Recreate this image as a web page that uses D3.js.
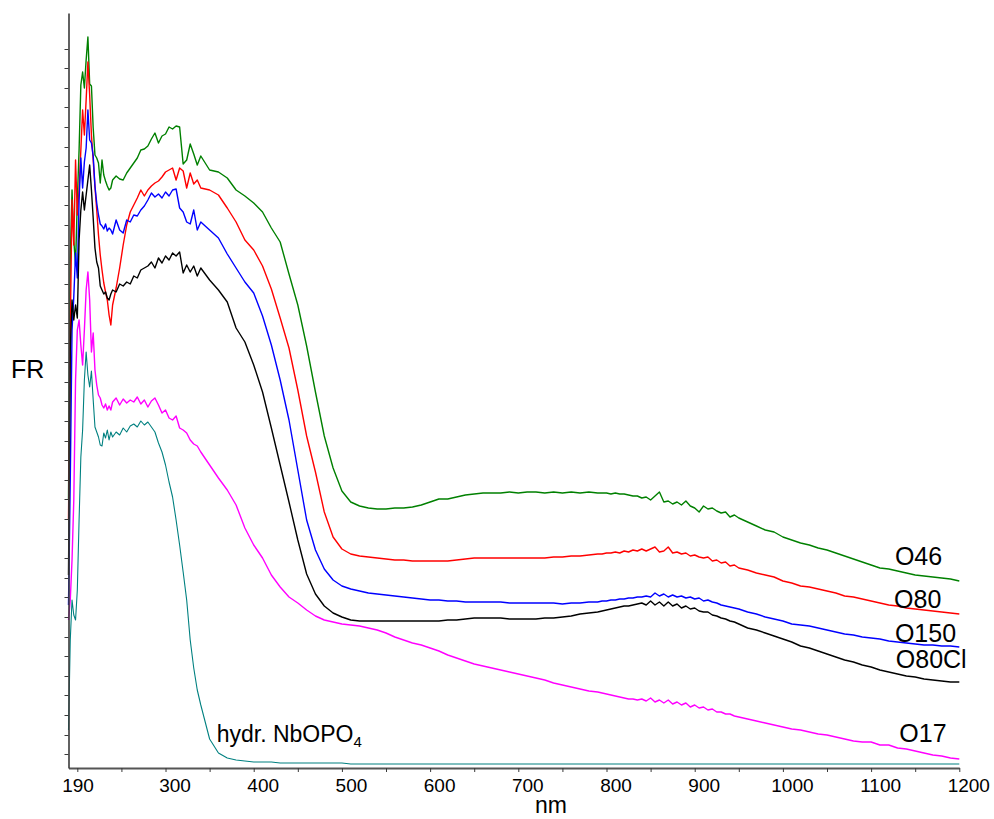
<!DOCTYPE html>
<html><head><meta charset="utf-8">
<script src="https://cdn.jsdelivr.net/npm/d3@7"></script>
<style>
body{margin:0;background:#fff}
svg{display:block}
text{font-family:"Liberation Sans",Arial,sans-serif;fill:#000}
</style>
</head><body>
<svg id="chart" width="994" height="819"></svg>
<script>
// wavelength grid (nm)
const wavelengths = [
190,192,194,196,198,200,202,204,206,208,210,212,214,216,218,220,222,224,226,228,230,232,234,236,238,240,
244,248,252,256,260,264,268,272,276,280,284,288,292,296,300,304,308,312,316,320,324,328,332,336,340,
350,360,370,380,390,400,410,420,430,440,450,460,470,480,490,500,510,520,530,540,550,560,570,580,590,600,
610,620,630,640,650,660,670,680,690,700,710,720,730,740,750,760,770,780,790,
795,800,805,810,815,820,825,830,835,840,845,850,855,860,865,870,875,880,885,890,895,900,905,910,915,920,925,930,935,940,945,950,
960,970,980,990,1000,1010,1020,1030,1040,1050,1060,1070,1080,1090,1100,1110,1120,1130,1140,1150,1160,1170,1180,1190,1200
];

// FR values (arbitrary units)
const O46 = [
268,508,578,528,503,568,618,683,696,680,708,731,684,682,640,613,610,605,585,608,593,587,582,578,580,588,
592,589,588,595,600,605,610,618,619,622,629,635,625,632,634,641,639,642,641,604,608,624,614,603,612,
598,596,590,578,572,565,556,540,526,494,463,422,376,332,300,277,266,262,260,259,259,260,260,261,263,266,
269,269,271,273,274,275,275,275,276,275,276,276,275,276,275,276,275,276,275,
275,275,274,275,274,274,273,272,272,270,271,268,272,276,266,267,264,266,263,267,262,260,256,262,259,260,257,255,256,251,253,250,
246,242,238,236,231,228,225,223,220,218,215,212,209,206,203,200,199,197,195,193,192,191,190,189,187
];
const O80 = [
248,438,568,523,608,553,578,618,658,633,668,706,673,633,608,581,558,533,513,498,485,476,468,453,443,463,
480,500,523,543,556,563,570,578,572,578,582,585,587,591,596,598,600,588,600,597,580,595,584,588,580,
578,573,560,546,528,518,502,479,450,420,378,332,296,256,231,219,214,212,211,210,209,208,208,207,207,207,
207,207,208,209,210,210,210,210,210,210,210,210,210,211,211,212,212,213,214,
214,215,215,216,215,217,216,218,217,219,217,219,221,216,217,221,215,216,214,215,212,213,211,210,211,207,208,205,206,202,203,200,
198,195,193,191,187,185,182,181,179,177,175,172,171,169,167,165,163,162,160,159,158,157,156,155,154
];
const O150 = [
163,288,438,471,515,490,568,610,580,606,620,658,628,625,612,582,565,553,544,542,539,544,537,540,538,534,
548,538,535,548,546,553,552,558,562,568,575,571,574,570,576,572,578,579,560,556,546,544,558,538,546,
538,530,514,500,486,475,452,423,388,348,298,248,218,199,188,182,179,177,175,174,173,172,171,170,169,168,
168,167,167,166,166,166,166,166,165,165,165,165,165,165,164,165,165,166,166,
167,167,168,168,169,169,170,170,171,171,172,171,175,172,174,171,173,171,172,170,171,169,170,167,168,166,165,163,162,161,160,159,
156,154,151,149,147,144,143,142,140,138,136,134,133,131,130,129,127,126,125,124,123,123,122,122,121
];
const O80Cl = [
193,418,468,448,463,450,528,558,576,558,573,588,603,578,550,520,506,500,482,478,474,476,470,468,474,478,
476,484,482,486,484,492,490,498,500,502,506,500,510,505,512,508,515,512,516,495,503,496,502,492,500,
488,478,466,440,426,403,376,340,303,266,228,194,174,162,155,151,148,147,147,147,147,147,147,147,147,147,
147,148,148,149,150,150,150,150,149,149,149,149,150,150,151,152,154,155,156,
157,158,159,160,161,162,162,163,164,165,163,167,163,166,162,166,162,164,160,162,159,160,157,156,156,153,152,150,149,147,146,144,
140,138,135,132,129,126,122,120,117,114,111,108,106,103,101,98,96,94,92,91,89,88,87,86,86
];
const O17 = [
148,168,208,268,388,438,448,423,403,438,478,496,468,416,435,398,383,373,370,363,360,364,358,362,358,366,
370,363,369,365,368,366,371,364,368,361,367,370,363,355,358,350,348,352,340,338,335,328,324,322,316,
303,290,278,263,240,223,210,193,181,171,165,158,152,148,146,144,143,142,140,138,135,131,128,125,123,120,
117,113,110,107,104,102,100,98,96,94,92,90,88,85,83,81,79,77,76,
75,74,73,72,71,70,69,69,68,69,67,70,66,68,65,68,64,66,63,65,61,63,60,61,58,59,56,56,54,54,52,51,
49,47,45,43,41,39,38,36,34,33,31,29,27,26,26,23,23,20,19,17,15,13,12,10,9
];
const NbOPO4 = [
38,128,168,153,148,178,248,311,338,388,416,393,381,397,368,341,336,331,323,322,335,330,338,328,336,331,
336,333,340,336,342,344,341,347,343,346,341,336,325,316,303,286,271,248,223,196,168,128,100,78,63,
29,15,10,8,7,6,6,6,5,5,5,5,5,5,5,5,4,4,4,4,4,4,4,4,4,4,
4,4,4,4,4,4,4,4,4,4,4,4,4,4,4,4,4,4,4,
4,4,4,4,4,4,4,4,4,4,4,4,4,4,4,4,4,4,4,4,4,4,4,4,4,4,4,4,4,4,4,4,
4,4,4,4,4,4,4,4,4,4,4,4,4,4,4,4,4,4,4,4,4,4,4,4,4
];

const seriesNames  = ["O46","O80","O150","O80Cl","O17","hydr. NbOPO4"];
const seriesColors = ["#008000","#ff0000","#0000ff","#000000","#ff00ff","#008080"];
const seriesValues = [O46, O80, O150, O80Cl, O17, NbOPO4];

const xTickLabels = [190,300,400,500,600,700,800,900,1000,1100,1200];
const xTickMarks  = [200,250,300,350,400,450,500,550,600,650,700,750,800,850,900,950,1000,1050,1100,1150,1200];
const yTickMarks  = [14,33,53,73,92,112,131,151,171,190,210,229,249,269,288,308,327,347,367,386,406,425,445,465,484,504,523,543,563,582,602,621,641,661,680,700,719];

const svg = d3.select("#chart");
svg.append("rect").attr("width",994).attr("height",819).attr("fill","#fff");

const x = d3.scaleLinear().domain([190,1200]).range([68.5,959.3]);
const y = d3.scaleLinear().domain([0,755]).range([768,13]);

// series
const line = d3.line().x(d=>x(d[0])).y(d=>y(d[1]));
seriesValues.forEach((vals,si)=>{
  const n = Math.min(vals.length, wavelengths.length);
  const pts = [];
  for(let i=0;i<n;i++) pts.push([wavelengths[i], vals[i]]);
  svg.append("path").datum(pts)
    .attr("d", line)
    .attr("fill","none")
    .attr("stroke", seriesColors[si])
    .attr("stroke-width", si===5 ? 1.1 : 1.4)
    .attr("stroke-linejoin","round");
});

// axes
const axisColor = "#3a3a3a";
const gx = svg.append("g").attr("transform","translate(0,768)")
  .call(d3.axisBottom(x).tickValues(xTickMarks).tickSize(4).tickSizeOuter(0).tickFormat(""));
gx.select(".domain").attr("stroke","#555").attr("stroke-width",2);
gx.selectAll(".tick line").attr("stroke",axisColor).attr("stroke-width",1);

const gxl = svg.append("g").attr("transform","translate(0,768)")
  .call(d3.axisBottom(x).tickValues(xTickLabels).tickSize(0).tickPadding(11).tickFormat(d3.format("d")));
gxl.select(".domain").remove();
gxl.selectAll("text").attr("font-size",19).attr("dx",9)
  .style("font-family","'Liberation Sans', Arial, sans-serif").attr("fill","#000");

const gy = svg.append("g").attr("transform","translate(68.5,0)")
  .call(d3.axisLeft(y).tickValues(yTickMarks).tickSize(4).tickSizeOuter(0).tickFormat(""));
gy.select(".domain").attr("stroke",axisColor).attr("stroke-width",1.6);
gy.selectAll(".tick line").attr("stroke",axisColor).attr("stroke-width",1);

// axis titles
svg.append("text").attr("x",551).attr("y",813).attr("text-anchor","middle")
  .attr("font-size",23).text("nm");
svg.append("text").attr("x",11).attr("y",378).attr("font-size",25).text("FR");

// series labels
const lab = [
  {t:"O46",   x:1127, v:203},
  {t:"O80",   x:1126, v:160},
  {t:"O150",  x:1127, v:126},
  {t:"O80Cl", x:1128, v:100},
  {t:"O17",   x:1132, v:26}
];
lab.forEach(l=>{
  svg.append("text").attr("x",x(l.x)).attr("y",y(l.v)).attr("font-size",25).text(l.t);
});
const h = svg.append("text").attr("x",x(358)).attr("y",y(26)).attr("font-size",23);
h.append("tspan").text("hydr. NbOPO");
h.append("tspan").attr("font-size",15).attr("dy",5).text("4");
</script>
</body></html>
